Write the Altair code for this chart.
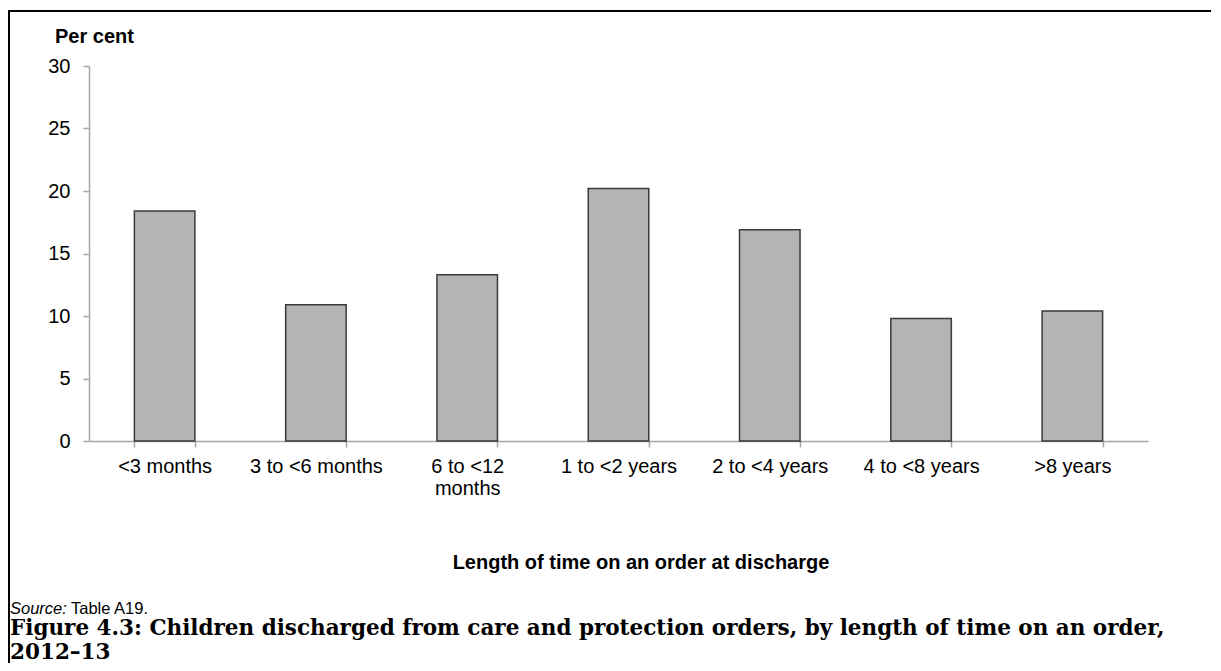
import altair as alt
import pandas as pd

# ---- data ----
categories = ["<3 months", "3 to <6 months", "6 to <12 months", "1 to <2 years",
              "2 to <4 years", "4 to <8 years", ">8 years"]
values = [18.4, 10.9, 13.3, 20.2, 16.9, 9.8, 10.4]
y_ticks = [0, 5, 10, 15, 20, 25, 30]

y_title = "Per cent"
x_title = "Length of time on an order at discharge"
source_label = "Source:"
source_text = "Table A19."
fig_title_1 = "Figure 4.3: Children discharged from care and protection orders, by length of time on an order,"
fig_title_2 = "2012\u201313"

df = pd.DataFrame({"category": categories, "value": values})
one = pd.DataFrame({"k": [0]})

SANS = "Liberation Sans, Arial, Helvetica, sans-serif"
SERIF = "DejaVu Serif, Liberation Serif, serif"
AXIS_GREY = "#a6a6a6"

W, H = 1059, 375

bars = alt.Chart(df).mark_bar(fill="#b4b4b4", stroke="#3a3a3a", strokeWidth=1.5).encode(
    x=alt.X("category:N", sort=categories,
            scale=alt.Scale(paddingInner=0.6, paddingOuter=0.3),
            axis=alt.Axis(title=None, labelAngle=0, tickBand="extent",
                          labelExpr="datum.value == '6 to <12 months' ? ['6 to <12', 'months'] : datum.value",
                          labelPadding=9, labelLineHeight=22,
                          labelFont=SANS, labelFontSize=20, labelColor="black")),
    y=alt.Y("value:Q", scale=alt.Scale(domain=[0, 30], nice=False, zero=True),
            axis=alt.Axis(title=None, values=y_ticks, grid=False, labelPadding=13,
                          labelFont=SANS, labelFontSize=20, labelColor="black")),
)

def txt(s, x, y, size=20, weight="normal", style="normal", font=SANS, align="left"):
    return alt.Chart(one).mark_text(
        text=s, align=align, baseline="middle", fontSize=size, fontWeight=weight,
        fontStyle=style, font=font, color="black"
    ).encode(x=alt.value(x), y=alt.value(y))

def rule(x, x2, y, y2):
    return alt.Chart(one).mark_rule(color="black", strokeWidth=2).encode(
        x=alt.value(x), x2=alt.value(x2), y=alt.value(y), y2=alt.value(y2))

layers = [
    bars,
    rule(-81, 1125, -55, -55),
    rule(-80, -80, -56, 600),
    txt(y_title, -34, -29, weight="bold"),
    txt(x_title, 552, 497, weight="bold", align="center"),
    txt(source_label, -79, 543, size=16.5, style="italic"),
    txt(source_text, -79 + 61, 543, size=16.5),
    txt(fig_title_1, -79, 563, size=21.5, weight="bold", font=SERIF),
    txt(fig_title_2, -79, 587, size=21.5, weight="bold", font=SERIF),
]

chart = alt.layer(*layers).properties(
    width=W, height=H,
    autosize=alt.AutoSizeParams(type="none"),
    padding={"left": 81, "top": 58, "right": 63, "bottom": 222},
    background="white",
).configure_view(stroke=None).configure_axis(
    domainColor=AXIS_GREY, tickColor=AXIS_GREY, domainWidth=1.5, tickWidth=1.5,
    tickSize=6, labelFont=SANS, labelFontSize=20, labelColor="black",
)

chart.save("out.html", embed_options={"renderer": "svg", "actions": False})
